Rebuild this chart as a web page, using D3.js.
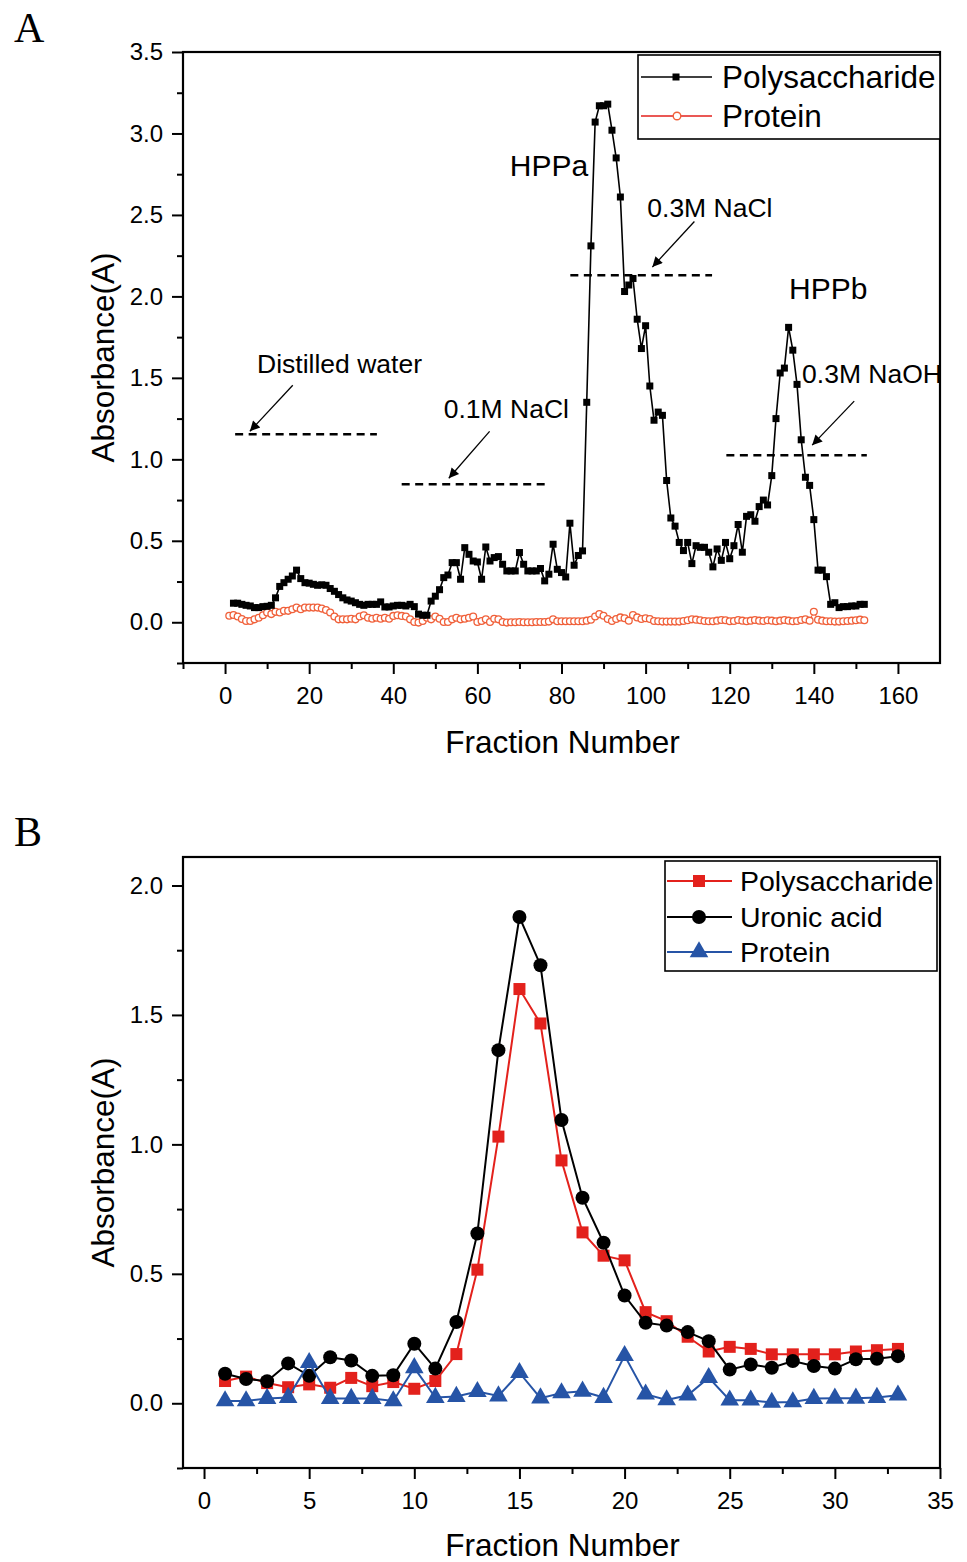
<!DOCTYPE html>
<html>
<head>
<meta charset="utf-8">
<script src="https://cdn.jsdelivr.net/npm/d3@7/dist/d3.min.js"></script>
<style>
  body { margin: 0; background: #fff; }
  text { font-family: "Liberation Sans", Arial, Helvetica, sans-serif; fill: #000; }
</style>
</head>
<body>
<svg id="chart" width="967" height="1562"></svg>
<script>
// ---------- Panel A: stepwise elution, one reading per fraction ----------
const firstFractionPolyA = 2;
const polysaccharideA = [
  0.117, 0.117, 0.110, 0.104, 0.100, 0.090, 0.090, 0.096, 0.098, 0.104,   // 2-11
  0.150, 0.220, 0.243, 0.264, 0.284, 0.320, 0.268, 0.243, 0.240, 0.233,   // 12-21
  0.227, 0.230, 0.227, 0.207, 0.190, 0.170, 0.150, 0.137, 0.130, 0.120,   // 22-31
  0.110, 0.104, 0.110, 0.110, 0.110, 0.125, 0.094, 0.094, 0.100, 0.104,   // 32-41
  0.104, 0.100, 0.110, 0.096, 0.050, 0.043, 0.043, 0.130, 0.160, 0.200,   // 42-51
  0.274, 0.290, 0.366, 0.366, 0.264, 0.458, 0.417, 0.376, 0.370, 0.264,   // 52-61
  0.462, 0.376, 0.397, 0.403, 0.356, 0.315, 0.315, 0.315, 0.428, 0.356,   // 62-71
  0.315, 0.315, 0.315, 0.330, 0.254, 0.295, 0.479, 0.325, 0.305, 0.278,   // 72-81
  0.608, 0.350, 0.410, 0.438, 1.350, 2.310, 3.070, 3.170, 3.170, 3.180,   // 82-91
  3.020, 2.850, 2.610, 2.030, 2.070, 2.110, 1.860, 1.680, 1.820, 1.450,   // 92-101
  1.240, 1.290, 1.270, 0.870, 0.640, 0.590, 0.490, 0.440, 0.490, 0.360,   // 102-111
  0.470, 0.460, 0.460, 0.430, 0.340, 0.450, 0.380, 0.490, 0.390, 0.470,   // 112-121
  0.600, 0.430, 0.650, 0.660, 0.620, 0.710, 0.750, 0.720, 0.900, 1.250,   // 122-131
  1.530, 1.560, 1.810, 1.670, 1.460, 1.120, 0.890, 0.840, 0.630, 0.320,   // 132-141
  0.320, 0.280, 0.110, 0.120, 0.090, 0.096, 0.096, 0.100, 0.100, 0.110,   // 142-151
  0.110                                                                     // 152
];

const firstFractionProteinA = 1;
const proteinA = [
  0.040, 0.045, 0.035, 0.020, 0.008, 0.008, 0.018, 0.028, 0.043, 0.060,   // 1-10
  0.050, 0.064, 0.060, 0.070, 0.070, 0.080, 0.090, 0.080, 0.090, 0.090,   // 11-20
  0.090, 0.090, 0.084, 0.075, 0.060, 0.035, 0.018, 0.018, 0.018, 0.022,   // 21-30
  0.018, 0.035, 0.043, 0.028, 0.022, 0.028, 0.022, 0.028, 0.022, 0.039,   // 31-40
  0.043, 0.039, 0.035, 0.018, 0.002, -0.002, 0.008, 0.028, 0.018, 0.035,  // 41-50
  0.022, 0.002, 0.002, 0.018, 0.028, 0.018, 0.022, 0.028, 0.035, 0.002,   // 51-60
  0.008, 0.018, 0.002, 0.022, 0.018, 0.002, -0.002, 0.000, 0.000, 0.002,  // 61-70
  0.000, 0.000, 0.000, 0.002, 0.002, 0.002, 0.004, 0.018, 0.006, 0.006,   // 71-80
  0.006, 0.006, 0.006, 0.006, 0.006, 0.010, 0.015, 0.035, 0.050, 0.040,   // 81-90
  0.020, 0.008, 0.020, 0.030, 0.025, 0.010, 0.045, 0.030, 0.020, 0.025,   // 91-100
  0.020, 0.008, 0.006, 0.004, 0.004, 0.004, 0.004, 0.004, 0.008, 0.012,   // 101-110
  0.018, 0.016, 0.012, 0.008, 0.006, 0.006, 0.010, 0.014, 0.012, 0.006,   // 111-120
  0.008, 0.014, 0.010, 0.006, 0.010, 0.014, 0.010, 0.008, 0.012, 0.010,   // 121-130
  0.006, 0.010, 0.014, 0.010, 0.006, 0.008, 0.014, 0.018, 0.010, 0.065,   // 131-140
  0.015, 0.010, 0.006, 0.006, 0.004, 0.004, 0.006, 0.008, 0.010, 0.012,   // 141-150
  0.016, 0.012                                                              // 151-152
];

// Eluent steps: dashed level, label and the arrow pointing at the level
const eluentNames  = ["Distilled water", "0.1M NaCl", "0.3M NaCl", "0.3M NaOH"];
const eluentLevel  = [1.154, 0.847, 2.13, 1.025];
const eluentFrom   = [2.4, 42.0, 82.1, 119.2];
const eluentTo     = [36.1, 76.0, 115.8, 152.6];
const eluentLabelX = [7.6, 52.0, 100.4, 137.2];
const eluentLabelY = [1.529, 1.252, 2.486, 1.467];
const arrowStart   = [[16.1, 1.455], [62.9, 1.172], [111.6, 2.46], [149.6, 1.357]];
const arrowTip     = [[5.9, 1.172], [53.2, 0.884], [101.6, 2.18], [139.6, 1.087]];

const peakNames = ["HPPa", "HPPb"];
const peakLabelX = [67.7, 134.1];
const peakLabelY = [2.738, 1.983];

const xTicksA = [0, 20, 40, 60, 80, 100, 120, 140, 160];
const xMinorA = [-10, 10, 30, 50, 70, 90, 110, 130, 150];
const yTicksA = [0, 0.5, 1.0, 1.5, 2.0, 2.5, 3.0, 3.5];
const yMinorA = [-0.25, 0.25, 0.75, 1.25, 1.75, 2.25, 2.75, 3.25];

// ---------- Panel B: purification of the fractions on gel column ----------
const fractionsB = [1, 2, 3, 4, 5, 6, 7, 8, 9, 10, 11, 12, 13, 14, 15, 16, 17,
                    18, 19, 20, 21, 22, 23, 24, 25, 26, 27, 28, 29, 30, 31, 32, 33];
const polysaccharideB = [0.086, 0.103, 0.078, 0.062, 0.073, 0.060, 0.098, 0.066, 0.082, 0.056,
                         0.086, 0.190, 0.516, 1.030, 1.600, 1.467, 0.938, 0.660, 0.570, 0.552,
                         0.352, 0.317, 0.257, 0.200, 0.218, 0.210, 0.189, 0.189, 0.189, 0.189,
                         0.200, 0.205, 0.210];
const uronicAcidB = [0.114, 0.094, 0.085, 0.154, 0.106, 0.178, 0.165, 0.106, 0.108, 0.230,
                     0.134, 0.314, 0.656, 1.364, 1.878, 1.692, 1.094, 0.794, 0.620, 0.416,
                     0.311, 0.300, 0.275, 0.240, 0.130, 0.150, 0.137, 0.163, 0.144, 0.134,
                     0.170, 0.172, 0.182];
const proteinB = [0.009, 0.009, 0.018, 0.022, 0.157, 0.018, 0.018, 0.018, 0.009, 0.137,
                  0.022, 0.026, 0.045, 0.028, 0.118, 0.020, 0.040, 0.046, 0.022, 0.184,
                  0.035, 0.013, 0.031, 0.099, 0.012, 0.012, 0.003, 0.005, 0.018, 0.019,
                  0.019, 0.022, 0.031];

const xTicksB = [0, 5, 10, 15, 20, 25, 30, 35];
const xMinorB = [2.5, 7.5, 12.5, 17.5, 22.5, 27.5, 32.5];
const yTicksB = [0, 0.5, 1.0, 1.5, 2.0];
const yMinorB = [-0.25, 0.25, 0.75, 1.25, 1.75];

// ---------- drawing ----------
const svg = d3.select("#chart");
const left = 183, right = 940;
const RED = "#e3211c", ORANGE = "#f0603a", BLUE = "#2654a6";

const xA = d3.scaleLinear().domain([-10, 170]).range([left, right]);
const yA = d3.scaleLinear().domain([-0.25, 3.5]).range([663, 52]);
const xB = d3.scaleLinear().domain([-1, 35]).range([left, right]);
const yB = d3.scaleLinear().domain([-0.25, 2.11]).range([1468, 857]);

function drawAxes(x, y, xMajor, xMinor, yMajor, yMinor, xFmt, yFmt, titleGap) {
  const [bottom, top] = y.range();
  const g = svg.append("g");
  const styleAxis = sel => {
    sel.select(".domain").remove();
    sel.selectAll("line").attr("stroke", "#000").attr("stroke-width", 2);
    sel.selectAll("text").style("font-size", "24px")
      .style("font-family", '"Liberation Sans", Arial, sans-serif');
  };
  g.append("g").attr("transform", `translate(0,${bottom})`)
    .call(d3.axisBottom(x).tickValues(xMajor).tickSize(11).tickPadding(13).tickFormat(xFmt))
    .call(styleAxis);
  g.append("g").attr("transform", `translate(0,${bottom})`)
    .call(d3.axisBottom(x).tickValues(xMinor).tickSize(6).tickFormat(""))
    .call(styleAxis);
  g.append("g").attr("transform", `translate(${left},0)`)
    .call(d3.axisLeft(y).tickValues(yMajor).tickSize(11).tickPadding(9).tickFormat(yFmt))
    .call(styleAxis);
  g.append("g").attr("transform", `translate(${left},0)`)
    .call(d3.axisLeft(y).tickValues(yMinor).tickSize(6).tickFormat(""))
    .call(styleAxis);
  g.append("rect")
    .attr("x", left).attr("y", top)
    .attr("width", right - left).attr("height", bottom - top)
    .attr("fill", "none").attr("stroke", "#000").attr("stroke-width", 2.2);
  // axis titles
  g.append("text")
    .attr("transform", `translate(103,${(top + bottom) / 2}) rotate(-90)`)
    .attr("text-anchor", "middle").attr("dy", "0.35em")
    .style("font-size", "31.5px").text("Absorbance(A)");
  g.append("text")
    .attr("x", (left + right) / 2 + 1).attr("y", bottom + titleGap)
    .attr("text-anchor", "middle")
    .style("font-size", "31.5px").text("Fraction Number");
}

// panel letters
svg.append("text").attr("x", 14).attr("y", 42)
  .style("font-family", '"Liberation Serif", "Times New Roman", serif')
  .style("font-size", "42px").text("A");
svg.append("text").attr("x", 14).attr("y", 846)
  .style("font-family", '"Liberation Serif", "Times New Roman", serif')
  .style("font-size", "42px").text("B");

// ===== Panel A =====
drawAxes(xA, yA, xTicksA, xMinorA, yTicksA, yMinorA, d3.format("d"), d3.format(".1f"), 90);

const polyPtsA = polysaccharideA.map((v, i) => ({ f: firstFractionPolyA + i, v }));
const protPtsA = proteinA.map((v, i) => ({ f: firstFractionProteinA + i, v }));

const lineA = d3.line().x(d => xA(d.f)).y(d => yA(d.v));

// protein (open circles)
svg.append("path").datum(protPtsA).attr("d", lineA)
  .attr("fill", "none").attr("stroke", ORANGE).attr("stroke-width", 1);
svg.append("g").selectAll("circle").data(protPtsA).join("circle")
  .attr("cx", d => xA(d.f)).attr("cy", d => yA(d.v)).attr("r", 3.4)
  .attr("fill", "#fff").attr("stroke", ORANGE).attr("stroke-width", 1.3);

// polysaccharide (filled squares)
svg.append("path").datum(polyPtsA).attr("d", lineA)
  .attr("fill", "none").attr("stroke", "#000").attr("stroke-width", 1.6);
svg.append("g").selectAll("rect").data(polyPtsA).join("rect")
  .attr("x", d => xA(d.f) - 3.5).attr("y", d => yA(d.v) - 3.5)
  .attr("width", 7).attr("height", 7).attr("fill", "#000");

// eluent steps
const annot = svg.append("g");
svg.append("defs").append("marker")
  .attr("id", "arrowHead").attr("viewBox", "0 0 10 10")
  .attr("refX", 10).attr("refY", 5)
  .attr("markerWidth", 17).attr("markerHeight", 10)
  .attr("markerUnits", "userSpaceOnUse")
  .attr("orient", "auto")
  .append("path").attr("d", "M0,0 L10,5 L0,10 Z").attr("fill", "#000");

eluentNames.forEach((name, i) => {
  annot.append("line")
    .attr("x1", xA(eluentFrom[i])).attr("x2", xA(eluentTo[i]))
    .attr("y1", yA(eluentLevel[i])).attr("y2", yA(eluentLevel[i]))
    .attr("stroke", "#000").attr("stroke-width", 2.6)
    .attr("stroke-dasharray", "8,5.5");
  annot.append("line")
    .attr("x1", xA(arrowStart[i][0])).attr("y1", yA(arrowStart[i][1]))
    .attr("x2", xA(arrowTip[i][0])).attr("y2", yA(arrowTip[i][1]))
    .attr("stroke", "#000").attr("stroke-width", 1.3)
    .attr("marker-end", "url(#arrowHead)");
  annot.append("text")
    .attr("x", xA(eluentLabelX[i])).attr("y", yA(eluentLabelY[i]))
    .style("font-size", "26.5px").text(name);
});
peakNames.forEach((name, i) => {
  annot.append("text")
    .attr("x", xA(peakLabelX[i])).attr("y", yA(peakLabelY[i]))
    .style("font-size", "30px").text(name);
});

// legend A
const legA = svg.append("g");
legA.append("rect").attr("x", 638).attr("y", 55).attr("width", 302).attr("height", 84)
  .attr("fill", "#fff").attr("stroke", "#000").attr("stroke-width", 1.6);
legA.append("line").attr("x1", 641).attr("x2", 712).attr("y1", 77).attr("y2", 77)
  .attr("stroke", "#000").attr("stroke-width", 1.6);
legA.append("rect").attr("x", 676 - 3.5).attr("y", 77 - 3.5).attr("width", 7).attr("height", 7)
  .attr("fill", "#000");
legA.append("text").attr("x", 722).attr("y", 88).style("font-size", "31.5px").text("Polysaccharide");
legA.append("line").attr("x1", 641).attr("x2", 712).attr("y1", 116).attr("y2", 116)
  .attr("stroke", RED).attr("stroke-width", 1.6);
legA.append("circle").attr("cx", 677).attr("cy", 116).attr("r", 3.8)
  .attr("fill", "#fff").attr("stroke", ORANGE).attr("stroke-width", 1.4);
legA.append("text").attr("x", 722).attr("y", 127).style("font-size", "31.5px").text("Protein");

// ===== Panel B =====
drawAxes(xB, yB, xTicksB, xMinorB, yTicksB, yMinorB, d3.format("d"), d3.format(".1f"), 88);

const lineB = vals => d3.line().x((d, i) => xB(fractionsB[i])).y(d => yB(d))(vals);

// polysaccharide (red squares)
svg.append("path").attr("d", lineB(polysaccharideB))
  .attr("fill", "none").attr("stroke", RED).attr("stroke-width", 2);
svg.append("g").selectAll("rect").data(polysaccharideB).join("rect")
  .attr("x", (d, i) => xB(fractionsB[i]) - 6).attr("y", d => yB(d) - 6)
  .attr("width", 12).attr("height", 12).attr("fill", RED);

// uronic acid (black circles)
svg.append("path").attr("d", lineB(uronicAcidB))
  .attr("fill", "none").attr("stroke", "#000").attr("stroke-width", 2);
svg.append("g").selectAll("circle").data(uronicAcidB).join("circle")
  .attr("cx", (d, i) => xB(fractionsB[i])).attr("cy", d => yB(d)).attr("r", 7)
  .attr("fill", "#000");

// protein (blue triangles)
const tri = d3.symbol().type(d3.symbolTriangle).size(150);
svg.append("path").attr("d", lineB(proteinB))
  .attr("fill", "none").attr("stroke", BLUE).attr("stroke-width", 2);
svg.append("g").selectAll("path").data(proteinB).join("path")
  .attr("transform", (d, i) => `translate(${xB(fractionsB[i])},${yB(d)})`)
  .attr("d", tri).attr("fill", BLUE);

// legend B
const legB = svg.append("g");
legB.append("rect").attr("x", 665).attr("y", 861).attr("width", 272).attr("height", 110)
  .attr("fill", "#fff").attr("stroke", "#000").attr("stroke-width", 1.6);
const legRowsB = [
  { name: "Polysaccharide", color: RED, y: 881, shape: "square" },
  { name: "Uronic acid", color: "#000", y: 917, shape: "circle" },
  { name: "Protein", color: BLUE, y: 952, shape: "triangle" }
];
legRowsB.forEach(r => {
  legB.append("line").attr("x1", 667).attr("x2", 732).attr("y1", r.y).attr("y2", r.y)
    .attr("stroke", r.color).attr("stroke-width", 2);
  if (r.shape === "square") {
    legB.append("rect").attr("x", 699 - 6).attr("y", r.y - 6).attr("width", 12).attr("height", 12)
      .attr("fill", r.color);
  } else if (r.shape === "circle") {
    legB.append("circle").attr("cx", 699).attr("cy", r.y).attr("r", 7).attr("fill", r.color);
  } else {
    legB.append("path").attr("transform", `translate(699,${r.y})`).attr("d", tri).attr("fill", r.color);
  }
  legB.append("text").attr("x", 740).attr("y", r.y + 10).style("font-size", "28.5px").text(r.name);
});
</script>
</body>
</html>
